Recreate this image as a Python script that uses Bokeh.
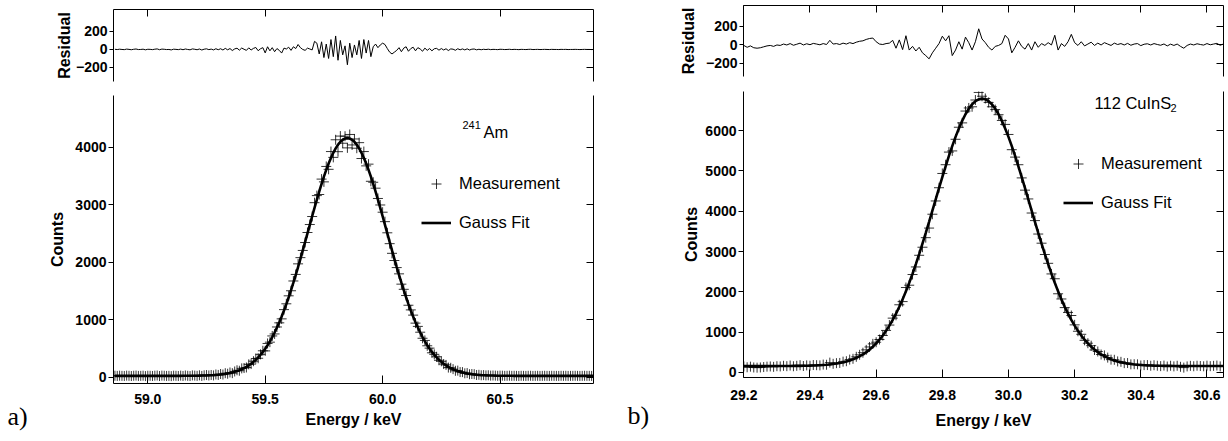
from bokeh.plotting import figure
from bokeh.layouts import row, column
from bokeh.models import (Range1d, LinearAxis, FixedTicker, NumeralTickFormatter,
                          Legend, LegendItem, Label)
from bokeh.embed import file_html
from bokeh.resources import INLINE

SANS = "Liberation Sans"
SERIF = "Liberation Serif"

# ---------------- data: panel a (241Am) ----------------
energy_a = [float(v) for v in """
58.86 58.87 58.88 58.89 58.90 58.91 58.92 58.93 58.94 58.95
58.96 58.97 58.98 58.99 59.00 59.01 59.02 59.03 59.04 59.05
59.06 59.07 59.08 59.09 59.10 59.11 59.12 59.13 59.14 59.15
59.16 59.17 59.18 59.19 59.20 59.21 59.22 59.23 59.24 59.25
59.26 59.27 59.28 59.29 59.30 59.31 59.32 59.33 59.34 59.35
59.36 59.37 59.38 59.39 59.40 59.41 59.42 59.43 59.44 59.45
59.46 59.47 59.48 59.49 59.50 59.51 59.52 59.53 59.54 59.55
59.56 59.57 59.58 59.59 59.60 59.61 59.62 59.63 59.64 59.65
59.66 59.67 59.68 59.69 59.70 59.71 59.72 59.73 59.74 59.75
59.76 59.77 59.78 59.79 59.80 59.81 59.82 59.83 59.84 59.85
59.86 59.87 59.88 59.89 59.90 59.91 59.92 59.93 59.94 59.95
59.96 59.97 59.98 59.99 60.00 60.01 60.02 60.03 60.04 60.05
60.06 60.07 60.08 60.09 60.10 60.11 60.12 60.13 60.14 60.15
60.16 60.17 60.18 60.19 60.20 60.21 60.22 60.23 60.24 60.25
60.26 60.27 60.28 60.29 60.30 60.31 60.32 60.33 60.34 60.35
60.36 60.37 60.38 60.39 60.40 60.41 60.42 60.43 60.44 60.45
60.46 60.47 60.48 60.49 60.50 60.51 60.52 60.53 60.54 60.55
60.56 60.57 60.58 60.59 60.60 60.61 60.62 60.63 60.64 60.65
60.66 60.67 60.68 60.69 60.70 60.71 60.72 60.73 60.74 60.75
60.76 60.77 60.78 60.79 60.80 60.81 60.82 60.83 60.84 60.85
60.86 60.87 60.88 60.89 60.90
""".split()]

gauss_fit_a = [
    20, 20, 20, 20, 20, 20, 20, 20, 20, 20,
    20, 20, 20, 20, 20, 20, 20, 20, 20, 20,
    20, 20, 20, 20, 20, 20, 20, 20, 20,
    21, 21, 21, 21, 22, 22, 23, 24, 25, 26,
    27, 29, 31, 33, 36, 39, 44, 49, 54, 61,
    69, 79, 90, 103, 117, 134, 154, 176, 202, 231,
    263, 299, 340, 386, 436, 492, 553, 621, 694, 774,
    860, 952, 1051, 1157, 1268, 1387, 1510, 1640, 1774, 1913,
    2056, 2201, 2349, 2498, 2647, 2796, 2942, 3085, 3224, 3357,
    3484, 3602, 3712, 3811, 3900, 3976, 4039, 4090, 4126, 4148,
    4155,
    4148, 4126, 4090, 4039, 3976, 3900, 3811, 3712, 3602, 3484,
    3357, 3224, 3085, 2942, 2796, 2647, 2498, 2349, 2201, 2056,
    1913, 1774, 1640, 1510, 1387, 1268, 1157, 1051, 952, 860,
    774, 694, 621, 553, 492, 436, 386, 340, 299, 263,
    231, 202, 176, 154, 134, 117, 103, 90, 79, 69,
    61, 54, 49, 44, 39, 36, 33, 31, 29, 27,
    26, 25, 24, 23, 22, 22, 21, 21, 21, 21,
    20, 20, 20, 20, 20, 20, 20, 20, 20, 20,
    20, 20, 20, 20, 20, 20, 20, 20, 20, 20,
    20, 20, 20, 20, 20, 20, 20, 20, 20, 20,
    20, 20, 20, 20, 20,
]

residual_a = [
    2, -1, 3, 0, -2, 4, 1, -3, 2, 5, -1, 0, 3, -4, 2, 1, -2, 3, 6, -3,
    4, 2, -1, 0, -5, 3, 1, -2, 4, -3, 5, 0, -4, 6, 2, -3, 5, -6, 3, 7,
    -2, 4, -5, 8, -3,
    8, -6, 12, -4, 10, -12, 6, 14, -8, 16, 2, -10, 18, -6, 12, 22, -14, 8, 20, -38,
    30, -15, 20, -25, 10, -10, -40, 15, 5, 25, -10, 30, 10, 55, 20,
    0, -10, 15, 5, -5, 90,
    70, -50, 85, -90, 60, -100, 110, -80, 150, -120, 100, -60, 40, -170,
    70, -90, 50, -60, 100, -100, 110, -40, 100, -80, 30, 60, 20,
    50, 70, 55, 10, -30, -50,
    -30, -10, 20, -25, 15, 30, -20, 10, 25, -15, 20, 5, -20, 15, -10, 10, -15, 8,
    12, -8, 10, -6, 8, -12, 6, 3, -9, 8, -4, 6, -5, 7, -6, 3, 5, -4, 2, -3,
    2, -1, 3, -2, 1, 0, -2, 2, 1, -1, 0, 2, -1, 1, 0, -2, 1, 0, -1, 1,
    2, -1, 0, 1, -1, 0, 1, 0, -1, 1, 0, 0, -1, 1, 0, 1, -1, 0, 0, 1,
    0, -1, 0, 1, 0, 0, -1, 0,
]

# ---------------- data: panel b (112 CuInS2) ----------------
energy_b = [float(v) for v in """
29.20 29.21 29.22 29.23 29.24 29.25 29.26 29.27 29.28 29.29
29.30 29.31 29.32 29.33 29.34 29.35 29.36 29.37 29.38 29.39
29.40 29.41 29.42 29.43 29.44 29.45 29.46 29.47 29.48 29.49
29.50 29.51 29.52 29.53 29.54 29.55 29.56 29.57 29.58 29.59
29.60 29.61 29.62 29.63 29.64 29.65 29.66 29.67 29.68 29.69
29.70 29.71 29.72 29.73 29.74 29.75 29.76 29.77 29.78 29.79
29.80 29.81 29.82 29.83 29.84 29.85 29.86 29.87 29.88 29.89
29.90 29.91 29.92 29.93 29.94 29.95 29.96 29.97 29.98 29.99
30.00 30.01 30.02 30.03 30.04 30.05 30.06 30.07 30.08 30.09
30.10 30.11 30.12 30.13 30.14 30.15 30.16 30.17 30.18 30.19
30.20 30.21 30.22 30.23 30.24 30.25 30.26 30.27 30.28 30.29
30.30 30.31 30.32 30.33 30.34 30.35 30.36 30.37 30.38 30.39
30.40 30.41 30.42 30.43 30.44 30.45 30.46 30.47 30.48 30.49
30.50 30.51 30.52 30.53 30.54 30.55 30.56 30.57 30.58 30.59
30.60 30.61 30.62 30.63 30.64 30.65
""".split()]

gauss_fit_b = [
    160, 160, 160, 160, 160, 160, 160, 160, 160, 160,
    161, 161, 161, 162, 162, 163, 163, 165, 166, 168,
    170, 173, 176, 180, 186, 192, 200, 210, 222, 237,
    254, 275, 300, 329, 364, 404, 451, 506, 568, 640,
    721, 813, 917, 1033, 1161, 1303, 1459, 1629, 1813, 2012,
    2224, 2449, 2687, 2936, 3196, 3463, 3736, 4014, 4293, 4571,
    4845, 5112, 5370, 5614, 5842, 6051, 6239, 6402, 6539, 6648,
    6726, 6774,
    6790,
    6774, 6726,
    6648, 6539, 6402, 6239, 6051, 5842, 5614, 5370, 5112, 4845,
    4571, 4293, 4014, 3736, 3463, 3196, 2936, 2687, 2449, 2224,
    2012, 1813, 1629, 1459, 1303, 1161, 1033, 917, 813, 721,
    640, 568, 506, 451, 404, 364, 329, 300, 275, 254,
    237, 222, 210, 200, 192, 186, 180, 176, 173, 170,
    168, 166, 165, 163, 163, 162, 162, 161, 161, 161,
    160, 160, 160, 160, 160, 160, 160, 160, 160, 160, 160,
]

residual_b = [
    -10, -30, -15, -35, -40, -35, -25, -15, -10, -20, -5,
    -10, 5, -5, 10, -8, 3, 15, -5, 8, -2, 12, 5, -3, 10, 0,
    45,
    5, 10, 0, 15, 5, 20, 10,
    25, 35, 40, 55, 65, 70, 30,
    5, 0, 10, 15,
    45, -40, 50, -55, 95, -60, -20,
    -70, -30, -90, -120, -155,
    -90, -40, 10, 90,
    40, 95, -120, -60, 30, -50, 80, 20, -60, 30,
    170,
    60, 20, -30, -60, -20, -10, 10,
    100, 60, -90, -30, 40,
    -20, -50, 10, -60, 30, -30, 10,
    -10, 20, -5, 100, -60, 10, -20, 30, 110,
    20, -10, 30, -15, 5, 25, -10, 15, -5, 20,
    5, -10, 15, 0, 10, -5, 12, -8, 5, 10, -12, 3, 8, -5, 10, 0, -8, 6,
    -15, 4, -10, 5, -20, -40, -10, 5, -5, 8, 0, -6, 10, -3, 5, 12, -8, 6,
]

assert len(energy_a) == len(gauss_fit_a) == len(residual_a) == 205
assert len(energy_b) == len(gauss_fit_b) == len(residual_b) == 146

measurement_a = [f + r for f, r in zip(gauss_fit_a, residual_a)]
measurement_b = [f + r for f, r in zip(gauss_fit_b, residual_b)]

# ticks
x_ticks_a = [59.0, 59.5, 60.0, 60.5]
y_ticks_a = [0, 1000, 2000, 3000, 4000]
x_ticks_b = [29.2, 29.4, 29.6, 29.8, 30.0, 30.2, 30.4, 30.6]
y_ticks_b = [0, 1000, 2000, 3000, 4000, 5000, 6000]
res_ticks = [-200, 0, 200]


def style_axis(ax, ticks, tick_in=0, tick_out=0, labels=True, fmt=None):
    ax.ticker = FixedTicker(ticks=ticks)
    if fmt is not None:
        ax.formatter = NumeralTickFormatter(format=fmt)
    ax.axis_line_color = "black"
    ax.axis_line_width = 1
    ax.major_tick_line_color = "black"
    ax.major_tick_line_width = 1
    ax.major_tick_in = tick_in
    ax.major_tick_out = tick_out
    ax.minor_tick_line_color = None
    if labels:
        ax.major_label_text_font = SANS
        ax.major_label_text_font_style = "bold"
        ax.major_label_text_font_size = "14px"
        ax.major_label_text_color = "black"
        ax.major_label_standoff = 2
    else:
        ax.major_label_text_font_size = "0px"
        ax.major_label_standoff = 0
    ax.axis_label_text_font = SANS
    ax.axis_label_text_font_style = "bold"
    ax.axis_label_text_font_size = "16px"
    ax.axis_label_text_color = "black"


def base_fig(xr, yr, fw, fh, ml, mr, mt, mb, with_x=True):
    p = figure(x_range=xr, y_range=yr, frame_width=fw, frame_height=fh,
               min_border_left=ml, min_border_right=mr,
               min_border_top=mt, min_border_bottom=mb,
               output_backend="svg", toolbar_location=None, title=None,
               x_axis_location="below" if with_x else None)
    p.grid.visible = False
    p.outline_line_color = None
    p.background_fill_color = "white"
    p.border_fill_color = "white"
    return p


def make_panel(energy, fit, meas, res, xr, yr_res, yr_main, x_ticks, y_ticks,
               res_ml, main_ml, mr, res_h, res_mt, res_mb, main_h, main_mt, main_mb,
               res_lab_std, cnt_lab_std, tick_std, lab_std, legend_loc):
    # residual plot
    r = base_fig(xr, yr_res, 480, res_h, res_ml, mr, res_mt, res_mb, with_x=False)
    style_axis(r.yaxis[0], res_ticks, tick_out=4)
    r.yaxis[0].axis_label = "Residual"
    r.yaxis[0].axis_label_standoff = res_lab_std
    top = LinearAxis()
    style_axis(top, x_ticks, tick_in=7, labels=False)
    r.add_layout(top, "above")
    right = LinearAxis()
    style_axis(right, res_ticks, tick_in=7, labels=False)
    r.add_layout(right, "right")
    r.line(energy, res, line_color="black", line_width=1)

    # main plot
    m = base_fig(xr, yr_main, 480, main_h, main_ml, mr, main_mt, main_mb)
    style_axis(m.xaxis[0], x_ticks, tick_in=8, fmt="0.0")
    m.xaxis[0].axis_label = "Energy / keV"
    m.xaxis[0].major_label_standoff = tick_std
    m.xaxis[0].axis_label_standoff = lab_std
    style_axis(m.yaxis[0], y_ticks, tick_out=5)
    m.yaxis[0].axis_label = "Counts"
    m.yaxis[0].axis_label_standoff = cnt_lab_std
    right_m = LinearAxis()
    style_axis(right_m, y_ticks, tick_in=7, labels=False)
    m.add_layout(right_m, "right")

    sc = m.scatter(energy, meas, marker="cross", size=10, line_color="black",
                   line_width=0.8)
    ln = m.line(energy, fit, line_color="black", line_width=2.6)
    legend = Legend(items=[LegendItem(label="Measurement", renderers=[sc]),
                           LegendItem(label="Gauss Fit", renderers=[ln])],
                    location=legend_loc, padding=0, margin=0, spacing=14,
                    glyph_width=30, glyph_height=25, label_height=25,
                    label_standoff=8, border_line_color=None,
                    background_fill_alpha=0, label_text_font=SANS,
                    label_text_font_size="16.5px", label_text_color="black")
    m.add_layout(legend)
    return r, m


def tag_fig(width, height, text, x, y):
    # narrow strip left of a main plot that carries the panel letter;
    # its ranges are pixel-sized so the label position is in pixels
    p = figure(frame_width=width, frame_height=height,
               x_range=Range1d(0, width), y_range=Range1d(0, height),
               x_axis_location=None, y_axis_location=None,
               min_border_left=0, min_border_right=0, min_border_top=0,
               min_border_bottom=0, output_backend="svg", toolbar_location=None,
               title=None, align="start")
    p.grid.visible = False
    p.outline_line_color = None
    p.add_layout(Label(x=x, y=y, text=text,
                       text_font=SERIF, text_font_size="26px",
                       text_baseline="alphabetic", text_color="black"))
    return p


res_a, main_a = make_panel(
    energy_a, gauss_fit_a, measurement_a, residual_a,
    Range1d(58.854, 60.898), Range1d(-356, 444), Range1d(-113, 4896),
    x_ticks_a, y_ticks_a, res_ml=113, main_ml=83, mr=27,
    res_h=72, res_mt=9, res_mb=4, main_h=288, main_mt=10, main_mb=58,
    res_lab_std=0, cnt_lab_std=6, tick_std=10, lab_std=4, legend_loc=(308, 148))

res_b, main_b = make_panel(
    energy_b, gauss_fit_b, measurement_b, residual_b,
    Range1d(29.199, 30.650), Range1d(-346, 422), Range1d(-124, 6967),
    x_ticks_b, y_ticks_b, res_ml=123, main_ml=83, mr=5,
    res_h=71, res_mt=5, res_mb=5, main_h=286, main_mt=10, main_mb=64,
    res_lab_std=6, cnt_lab_std=2, tick_std=12, lab_std=9, legend_loc=(320, 162))

# texts inside the frames (screen units relative to the plot frame)
main_a.add_layout(Label(x=370, y=252, x_units="screen", y_units="screen", text="Am",
                        text_font=SANS, text_font_size="16.5px",
                        text_baseline="alphabetic", text_color="black"))
main_a.add_layout(Label(x=349, y=259, x_units="screen", y_units="screen", text="241",
                        text_font=SANS, text_font_size="11px",
                        text_baseline="alphabetic", text_color="black"))
main_b.add_layout(Label(x=351, y=275, x_units="screen", y_units="screen", text="112 CuInS",
                        text_font=SANS, text_font_size="16.5px",
                        text_baseline="alphabetic", text_color="black"))
main_b.add_layout(Label(x=427, y=270, x_units="screen", y_units="screen", text="2",
                        text_font=SANS, text_font_size="11px",
                        text_baseline="alphabetic", text_color="black"))

tag_a = tag_fig(30, 356, "a)", 7, 35)
tag_b = tag_fig(40, 360, "b)", 7, 36)

layout = row(column(res_a, row(tag_a, main_a)),
             column(res_b, row(tag_b, main_b)))

with open("out.html", "w") as f:
    f.write(file_html(layout, INLINE))
